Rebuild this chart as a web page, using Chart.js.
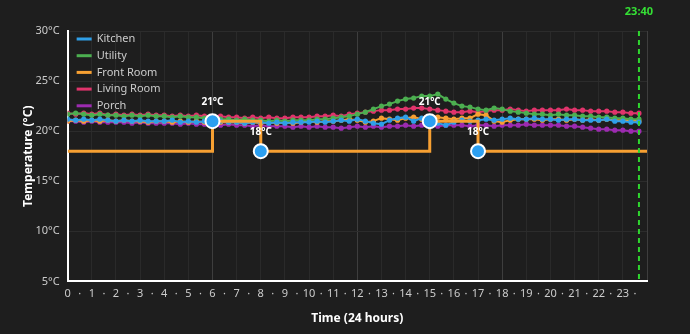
<!DOCTYPE html>
<html>
<head>
<meta charset="utf-8">
<script src="https://cdn.jsdelivr.net/npm/chart.js@4.4.0/dist/chart.umd.min.js"></script>
<style>
  html, body { margin: 0; padding: 0; background: #1e1e1e; }
</style>
</head>
<body>
<canvas id="tempChart" width="690" height="334"></canvas>
<script>
// Readings every 20 minutes from 00:00 to 23:40
const sampleMinutes = 20;

const kitchen = [
    21.2, 21.1, 21.2,  21.1, 21.2, 21.1,  21.0, 21.1, 21.0,  21.1, 21.0, 21.0,
    21.0, 21.1, 20.9,  21.0, 20.9, 21.0,  20.9, 21.0, 20.9,  20.9, 20.8, 20.9,
    20.9, 20.8, 20.9,  20.8, 20.9, 20.9,  20.9, 21.0, 20.9,  21.0, 21.1, 21.0,
    21.2, 21.0, 20.8,  20.7, 21.1, 21.3,  21.4, 21.0, 21.3,  21.2, 20.8, 20.6,
    20.9, 21.1, 21.0,  21.1, 21.2, 21.1,  21.2, 21.3, 21.2,  21.2, 21.3, 21.2,
    21.2, 21.1, 21.2,  21.2, 21.1, 21.1,  21.1, 21.2, 21.0,  21.0, 20.9, 20.9
];
const utility = [
    21.7, 21.8, 21.7,  21.6, 21.7, 21.6,  21.6, 21.5, 21.6,  21.5, 21.6, 21.5,
    21.5, 21.4, 21.5,  21.4, 21.4, 21.3,  21.3, 21.2, 21.2,  21.1, 21.2, 21.1,
    21.1, 21.0, 21.1,  21.0, 21.1, 21.1,  21.1, 21.2, 21.2,  21.3, 21.4, 21.5,
    21.7, 21.9, 22.2,  22.5, 22.7, 23.0,  23.2, 23.3, 23.5,  23.5, 23.7, 23.2,
    22.8, 22.5, 22.4,  22.2, 22.1, 22.3,  22.2, 22.0, 21.9,  21.8, 21.7, 21.7,
    21.6, 21.7, 21.6,  21.6, 21.5, 21.5,  21.4, 21.4, 21.3,  21.3, 21.2, 21.2
];
const frontRoom = [
    21.0, 21.1, 21.0,  21.1, 21.0, 21.1,  21.0, 21.1, 21.0,  21.0, 20.9, 21.0,
    21.0, 20.9, 21.0,  20.9, 21.0, 20.9,  21.0, 20.9, 20.9,  20.9, 20.8, 20.9,
    20.8, 20.9, 20.8,  20.9, 20.8, 20.9,  21.0, 20.9, 21.0,  21.0, 21.1, 21.2,
    21.1, 20.9, 21.0,  21.3, 21.2, 21.1,  21.3, 21.4, 21.2,  21.3, 21.4, 21.3,
    21.2, 21.3, 21.3,  21.7, 21.6, 21.0,  20.9, 21.1, 21.2,  21.2, 21.2, 21.1,
    21.2, 21.2, 21.1,  21.2, 21.1, 21.2,  21.1, 21.2, 21.1,  21.1, 21.1, 21.0
];
const livingRoom = [
    21.8, 21.7, 21.8,  21.7, 21.8, 21.6,  21.7, 21.6, 21.7,  21.6, 21.7, 21.6,
    21.6, 21.5, 21.6,  21.5, 21.6, 21.5,  21.4, 21.5, 21.4,  21.4, 21.3, 21.4,
    21.3, 21.4, 21.3,  21.3, 21.4, 21.4,  21.4, 21.5, 21.5,  21.6, 21.5, 21.7,
    21.8, 21.9, 22.0,  22.1, 22.1, 22.2,  22.2, 22.3, 22.3,  22.2, 22.1, 22.0,
    21.9, 21.9, 22.0,  21.9, 22.0, 22.1,  22.1, 22.2, 22.1,  22.0, 22.1, 22.1,
    22.1, 22.1, 22.2,  22.1, 22.1, 22.0,  22.0, 22.0, 21.9,  21.9, 21.8, 21.8
];
const porch = [
    21.0, 21.0, 20.9,  21.0, 20.9, 20.9,  20.9, 20.9, 20.8,  20.9, 20.8, 20.8,
    20.8, 20.8, 20.7,  20.8, 20.7, 20.7,  20.7, 20.6, 20.7,  20.6, 20.6, 20.5,
    20.6, 20.5, 20.5,  20.5, 20.4, 20.5,  20.4, 20.5, 20.4,  20.4, 20.3, 20.4,
    20.5, 20.4, 20.5,  20.4, 20.5, 20.5,  20.6, 20.5, 20.6,  20.6, 20.5, 20.6,
    20.6, 20.6, 20.5,  20.6, 20.6, 20.5,  20.6, 20.6, 20.6,  20.7, 20.6, 20.6,
    20.6, 20.6, 20.5,  20.5, 20.4, 20.3,  20.2, 20.2, 20.1,  20.1, 20.0, 20.0
];

// Heating schedule (hour, target temperature)
const setpointHours = [0, 6, 8, 15, 17, 24];
const setpointValues = [18, 21, 18, 21, 18, 18];

const nowLabel = '23:40';

const yTicks = [5, 10, 15, 20, 25, 30];

const seriesNames = ['Kitchen', 'Utility', 'Front Room', 'Living Room', 'Porch'];
const seriesData = [kitchen, utility, frontRoom, livingRoom, porch];
const seriesColors = ['#2f9fe8', '#4caf50', '#f7a032', '#e0346c', '#9c2bb0'];

function toPoints(values) {
    return values.map((v, i) => ({ x: i * sampleMinutes / 60, y: v }));
}

function hourOf(label) {
    const parts = label.split(':');
    return Number(parts[0]) + Number(parts[1]) / 60;
}

const datasets = seriesNames.map((name, i) => ({
    label: name,
    data: toPoints(seriesData[i]),
    borderColor: seriesColors[i],
    backgroundColor: seriesColors[i],
    borderWidth: 2,
    pointRadius: 1.6,
    pointHoverRadius: 2,
    tension: 0,
    order: 1
}));

datasets.push({
    label: 'Setpoint',
    data: setpointHours.map((h, i) => ({ x: h, y: setpointValues[i] })),
    borderColor: '#f7a032',
    backgroundColor: '#2c9ff0',
    borderWidth: 3,
    stepped: 'before',
    pointRadius: setpointHours.map((h, i) => (i === 0 || i === setpointHours.length - 1) ? 0 : 7),
    pointBorderColor: '#ffffff',
    pointBorderWidth: 2,
    order: 0
});

// Legend drawn inside the plot, top-left
const insideLegend = {
    id: 'insideLegend',
    beforeDatasetsDraw(chart) {
        const ctx = chart.ctx;
        const area = chart.chartArea;
        ctx.save();
        ctx.font = '11px "Noto Sans", sans-serif';
        ctx.textBaseline = 'middle';
        ctx.textAlign = 'left';
        seriesNames.forEach((name, i) => {
            const y = area.top + 8 + i * 16.7;
            ctx.fillStyle = seriesColors[i];
            ctx.fillRect(area.left + 9, y - 1.5, 15, 3);
            ctx.fillStyle = '#cccccc';
            ctx.fillText(name, area.left + 29, y);
        });
        ctx.restore();
    }
};

// Text above the schedule change points + the "now" marker
const overlayPlugin = {
    id: 'overlay',
    afterDatasetsDraw(chart) {
        const ctx = chart.ctx;
        const meta = chart.getDatasetMeta(datasets.length - 1);
        ctx.save();
        ctx.font = 'bold 10px "Noto Sans", sans-serif';
        ctx.fillStyle = '#ffffff';
        ctx.textAlign = 'center';
        ctx.textBaseline = 'middle';
        meta.data.forEach((pt, i) => {
            if (i === 0 || i === meta.data.length - 1) return;
            ctx.fillText(setpointValues[i] + '°C', pt.x, pt.y - 19);
        });

        const x = chart.scales.x.getPixelForValue(hourOf(nowLabel));
        const area = chart.chartArea;
        ctx.strokeStyle = '#2fd62f';
        ctx.lineWidth = 2;
        ctx.setLineDash([5, 4]);
        ctx.beginPath();
        ctx.moveTo(x, area.top);
        ctx.lineTo(x, area.bottom);
        ctx.stroke();
        ctx.setLineDash([]);
        ctx.fillStyle = '#35e035';
        ctx.font = 'bold 11px "Noto Sans", sans-serif';
        ctx.fillText(nowLabel, x, 12);
        ctx.restore();
    }
};

new Chart(document.getElementById('tempChart'), {
    type: 'line',
    data: { datasets: datasets },
    options: {
        responsive: false,
        animation: false,
        layout: { padding: { top: 31, right: 43, bottom: 8, left: 21 } },
        plugins: {
            tooltip: { enabled: false },
            legend: { display: false }
        },
        scales: {
            x: {
                type: 'linear',
                min: 0,
                max: 24,
                border: { color: '#ffffff', width: 2 },
                grid: {
                    drawTicks: false,
                    color: c => {
                        const v = c.tick ? c.tick.value : 0;
                        if (!Number.isInteger(v)) return 'rgba(0,0,0,0)';
                        return v % 6 === 0 ? '#3e3e3e' : '#2a2a2a';
                    }
                },
                ticks: {
                    stepSize: 0.5,
                    autoSkip: false,
                    maxRotation: 0,
                    padding: 6,
                    color: '#cccccc',
                    font: { size: 11, family: '"Noto Sans", sans-serif' },
                    callback: v => v === 24 ? '' : (Number.isInteger(v) ? String(v) : '·')
                },
                title: {
                    display: true,
                    text: 'Time (24 hours)',
                    color: '#ffffff',
                    font: { size: 12, weight: 'bold', family: '"Noto Sans", sans-serif' },
                    padding: { top: 5, bottom: 0 }
                }
            },
            y: {
                min: yTicks[0],
                max: yTicks[yTicks.length - 1],
                border: { color: '#ffffff', width: 2 },
                grid: { drawTicks: false, color: '#2c2c2c' },
                ticks: {
                    stepSize: 5,
                    padding: 8,
                    color: '#cccccc',
                    font: { size: 11, family: '"Noto Sans", sans-serif' },
                    callback: v => v + '°C'
                },
                title: {
                    display: true,
                    text: 'Temperature (°C)',
                    color: '#ffffff',
                    font: { size: 12, weight: 'bold', family: '"Noto Sans", sans-serif' },
                    padding: { top: 0, bottom: -8 }
                }
            }
        }
    },
    plugins: [insideLegend, overlayPlugin]
});
</script>
</body>
</html>
